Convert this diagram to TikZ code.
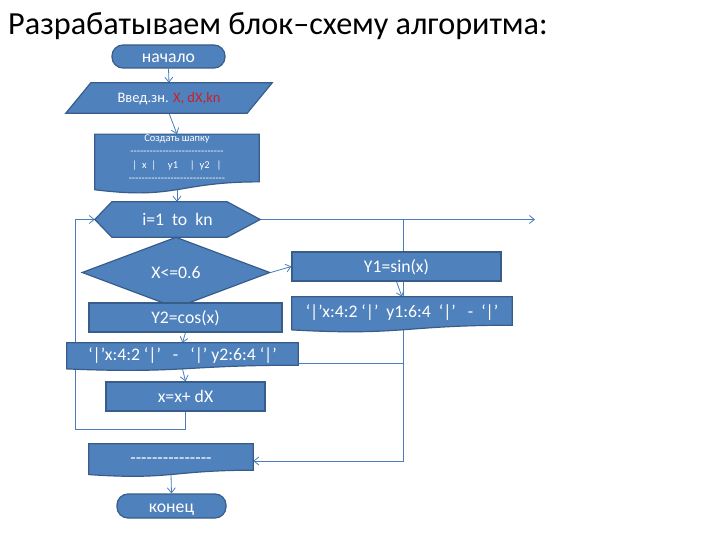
\documentclass[tikz,border=0pt]{standalone}
\usepackage{fontspec}
\setmainfont{Carlito}[Ligatures=TeXOff]
\usetikzlibrary{arrows.meta,calc,shapes.geometric}
\definecolor{bfill}{HTML}{4F81BD}
\definecolor{bdraw}{HTML}{385D8A}
\definecolor{lcol}{HTML}{4A7EBB}
\definecolor{rtext}{RGB}{204,32,40}
\pgfdeclarelayer{bg}\pgfdeclarelayer{shp}\pgfsetlayers{bg,shp,main}
\tikzset{
 mainfont/.style={font=\fontsize{17.7}{20}\selectfont},
 pptline/.style={text height=16.85pt, text depth=4.76pt},
 box/.style={rectangle, fill=bfill, draw=bdraw, line width=1.2pt, inner sep=0pt, text=white, mainfont, pptline},
 term/.style={box, rounded corners=11pt},
 txtnode/.style={rectangle, inner sep=0pt, text=white, mainfont, pptline},
 shapefill/.style={fill=bfill, draw=bdraw, line width=1.2pt, line join=miter},
 conn/.style={draw=lcol, line width=0.8pt},
 arr/.style={conn, -{Straight Barb[length=5pt,width=8pt]}},
}
\newcommand\mydoc[1]{%
 \begin{pgfonlayer}{shp}
 \path[shapefill] (#1.north west) -- (#1.north east) -- (#1.south east)
   .. controls (#1.south) and ($(#1.north)!1.38!(#1.south)$) .. ($(#1.north west)!1.165!(#1.south west)$) -- cycle;
 \end{pgfonlayer}
 \coordinate (#1-b) at ($(#1.north)!1.163!(#1.south)$);}
\begin{document}
\begin{tikzpicture}[x=1pt,y=-1pt]
\useasboundingbox (0,0) rectangle (720,540);
\begin{pgfonlayer}{bg}
\fill[white] (0,0) rectangle (720,540);
\end{pgfonlayer}
% title
\node[anchor=base west, inner sep=0pt, font=\fontsize{32.2}{38}\selectfont] (title) at (8,34.5) {Разрабатываем блок–схему алгоритма:};
% nodes
\node[term, minimum width=113pt, minimum height=23pt] (start) at (168.5,56.5) {начало};
\node[txtnode, minimum width=181pt, minimum height=30pt, font=\fontsize{14.5}{16}\selectfont, text height=13.8pt, text depth=3.9pt] (in) at (169,98) {Введ.зн. \textcolor{rtext}{X, dX,kn}};
\begin{pgfonlayer}{shp}
\path[shapefill] ([xshift=12.5pt]in.north west) -- ([xshift=12.5pt]in.north east) -- ([xshift=-12.5pt]in.south east) -- ([xshift=-12.5pt]in.south west) -- cycle;
\end{pgfonlayer}
\node[rectangle, inner sep=0pt, text=white, minimum width=164pt, minimum height=46pt, align=center, font=\fontsize{10.5}{13.5}\selectfont] (hdr) at (177,158) {Создать шапку\\-----------------------------\\|~~x~~|~~~~~y1~~~~~|~~y2~~~|\\------------------------------};
\mydoc{hdr}
\node[txtnode, minimum width=165pt, minimum height=35pt] (hex) at (177.5,219.5) {i=1~~to~~kn};
\begin{pgfonlayer}{shp}
\path[shapefill] (hex.west) -- ([xshift=17pt]hex.north west) -- ([xshift=-33pt]hex.north east) -- (hex.east) -- ([xshift=-33pt]hex.south east) -- ([xshift=17pt]hex.south west) -- cycle;
\end{pgfonlayer}
\node[box, diamond, minimum width=188pt, minimum height=51pt] (dec) at (176,272.5) {X<=0.6};
\node[box, minimum width=209pt, minimum height=29pt] (y1) at (396.5,266.5) {Y1=sin(x)};
\node[txtnode, minimum width=220pt, minimum height=28pt] (o1) at (402,311) {‘|’x:4:2 ‘|’~~y1:6:4~~‘|’~~~-~~‘|’};
\mydoc{o1}
\node[box, minimum width=193pt, minimum height=29pt] (y2) at (185.5,317.5) {Y2=cos(x)};
\node[txtnode, minimum width=231pt, minimum height=22pt] (o2) at (182.5,354) {‘|’x:4:2 ‘|’~~~-~~~‘|’ y2:6:4 ‘|’};
\mydoc{o2}
\node[box, minimum width=159pt, minimum height=29pt] (xb) at (185.5,396.5) {x=x+ dX};
\node[txtnode, minimum width=164pt, minimum height=26pt] (ld) at (171,457) {---------------};
\mydoc{ld}
\node[term, minimum width=109pt, minimum height=24pt] (end) at (171.5,506) {конец};
% helper coordinates
\coordinate (loopl) at (75,429);
\coordinate (far) at (535,219.5);
\coordinate (rv) at (403,219.5);
\coordinate (rb) at (403,461);
\coordinate (o2r) at ([yshift=-9pt]o2.east);
% connectors
\begin{pgfonlayer}{bg}
\draw[arr] (start.south) -- (in.north);
\draw[arr] (in.south) -- (hdr.north);
\draw[arr] (hdr-b) -- (hdr-b |- hex.north);
\draw[arr] (hex.south) -- (dec.north);
\draw[arr] (dec.east) -- (y1.west);
\draw[arr] (dec.south) -- (dec.south |- y2.north);
\draw[arr] (y1.south) -- (o1.north);
\draw[arr] (y2.south) -- (o2.north);
\draw[arr] (o2-b) -- (xb.north);
\draw[arr] (xb.south) |- (loopl) |- (hex.west);
\draw[arr] (hex.east) -- (far);
\draw[arr] (rv) -- (rb) -- (rb -| ld.east);
\draw[conn] (o2r) -- (o2r -| rv);
\draw[arr] (ld-b) -- (end.north);
\end{pgfonlayer}
\end{tikzpicture}
\end{document}
